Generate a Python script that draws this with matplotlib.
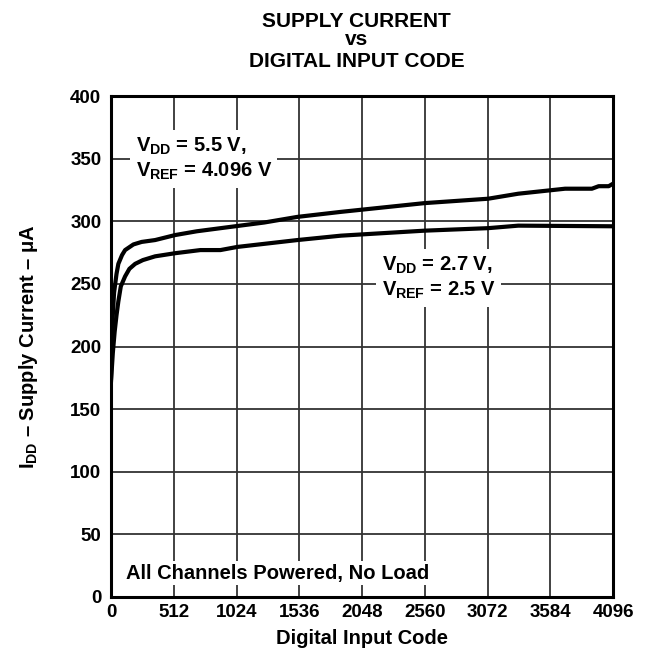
import numpy as np
import matplotlib
matplotlib.use("Agg")
import matplotlib.pyplot as plt

plt.rcParams["font.family"] = ["Liberation Sans", "DejaVu Sans"]
plt.rcParams["font.weight"] = "bold"
plt.rcParams["mathtext.fontset"] = "custom"
plt.rcParams["mathtext.rm"] = "Liberation Sans:bold"
plt.rcParams["mathtext.it"] = "Liberation Sans:bold"
plt.rcParams["mathtext.bf"] = "Liberation Sans:bold"

# VDD = 5.5 V, VREF = 4.096 V
code_hi = [0, 5, 12, 25, 45, 60, 90, 115, 183, 250, 360, 524, 700, 934, 1250,
           1521, 1876, 2559, 3077, 3323, 3705, 3924, 3979, 4061, 4096]
idd_hi = [175, 195, 220, 243, 258, 266, 273, 277, 281.5, 283.5, 285, 289, 292,
          295, 299, 303.5, 307.5, 314.5, 318, 322, 326, 326, 328, 328, 330]
# VDD = 2.7 V, VREF = 2.5 V
code_lo = [0, 15, 30, 45, 60, 80, 115, 150, 197, 260, 360, 524, 729, 893, 1030,
           1521, 1876, 2559, 3077, 3323, 4096]
idd_lo = [172, 195, 212, 225, 236, 248, 256, 262, 266, 269, 272, 274.5, 277,
          277, 279.5, 285, 288.5, 292.5, 294.5, 296.5, 296]

xticks = [0, 512, 1024, 1536, 2048, 2560, 3072, 3584, 4096]
yticks = list(range(0, 401, 50))

fig = plt.figure(figsize=(6.48, 6.60), dpi=100)
ax = fig.add_axes([0.1713, 0.0955, 0.7747, 0.759])

ax.plot(code_hi, idd_hi, color="black", lw=3, solid_joinstyle="round", zorder=3)
ax.plot(code_lo, idd_lo, color="black", lw=3, solid_joinstyle="round", zorder=3)

ax.set_xlim(0, 4096)
ax.set_ylim(0, 400)
ax.set_xticks(xticks)
ax.set_yticks(yticks)
ax.tick_params(length=0, labelsize=13.5, pad=5)
ax.tick_params(axis="y", pad=7)
for lab in ax.get_xticklabels() + ax.get_yticklabels():
    lab.set_fontweight("bold")
ax.grid(True, color="#333333", lw=1.3)
ax.set_axisbelow(True)
for s in ax.spines.values():
    s.set_linewidth(2.2)

ax.set_xlabel("Digital Input Code", fontsize=14.5, fontweight="bold", labelpad=6)
ax.set_ylabel("$I_{DD}$ \u2013 Supply Current \u2013 \u03bcA", fontsize=14.5,
              fontweight="bold", labelpad=22)

fig.text(0.55, 0.9595, "SUPPLY CURRENT", ha="center", va="baseline", fontsize=15, fontweight="bold")
fig.text(0.55, 0.9318, "vs", ha="center", va="baseline", fontsize=15, fontweight="bold")
fig.text(0.55, 0.899, "DIGITAL INPUT CODE", ha="center", va="baseline", fontsize=15, fontweight="bold")

box = dict(facecolor="white", edgecolor="none", pad=4)
ax.text(200, 350, "$V_{DD}$ = 5.5 V,\n$V_{REF}$ = 4.096 V", fontsize=14.5,
        fontweight="bold", va="center", ha="left", linespacing=1.25, bbox=box, zorder=4)
ax.text(2210, 255, "$V_{DD}$ = 2.7 V,\n$V_{REF}$ = 2.5 V", fontsize=14.5,
        fontweight="bold", va="center", ha="left", linespacing=1.25, bbox=box, zorder=4)
ax.text(120, 19, "All Channels Powered, No Load", fontsize=14.5,
        fontweight="bold", va="center", ha="left",
        bbox=dict(facecolor="white", edgecolor="none", pad=2), zorder=4)

fig.savefig("out.png", dpi=100)
